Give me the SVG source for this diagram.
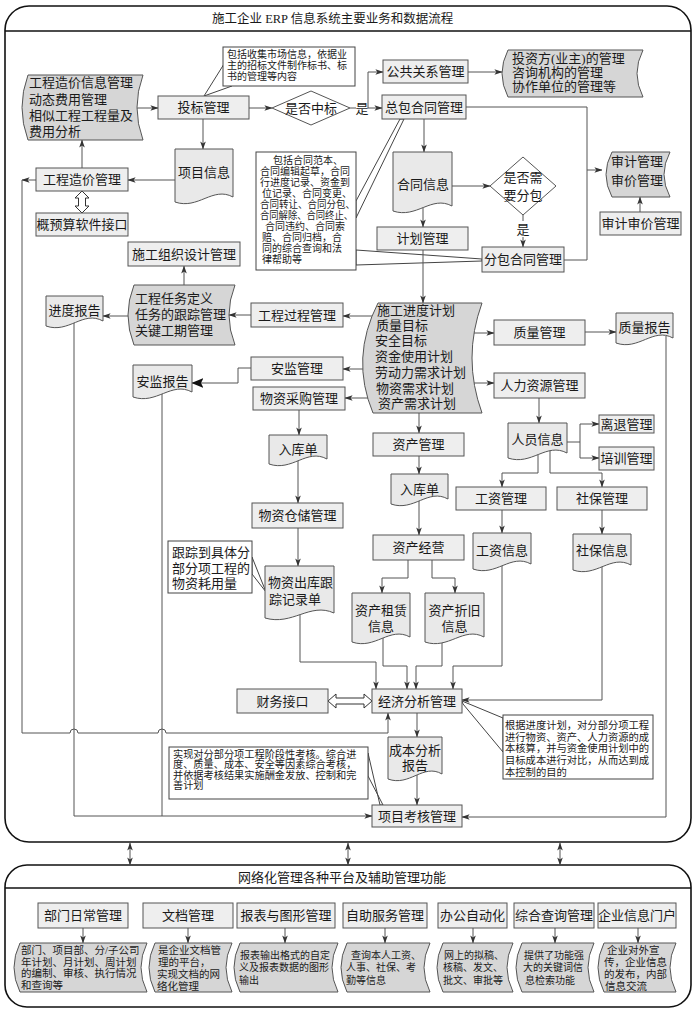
<svg xmlns="http://www.w3.org/2000/svg" width="696" height="1014" viewBox="0 0 696 1014">
<defs>
<style>
text{font-family:"Liberation Serif","Noto Sans CJK SC",serif;fill:#1a1a1a;dominant-baseline:central;font-size:13px}
.m{text-anchor:middle}
.s{font-size:10px}
.box{fill:#eeeeee;stroke:#555;stroke-width:1}
.doc{fill:#e9e9e9;stroke:#555;stroke-width:1}
.tape{fill:#d6d6d6;stroke:#555;stroke-width:1}
.dia{fill:#fff;stroke:#555;stroke-width:1}
.note{fill:#fff;stroke:#444;stroke-width:1}
.frame{fill:#fff;stroke:#111;stroke-width:1.6}
.ln{fill:none;stroke:#555;stroke-width:1}
.ar{marker-end:url(#ah)}
.as{marker-start:url(#ah)}
.arb{marker-end:url(#ahb)}
.hollow{fill:#fff;stroke:#333;stroke-width:1}
</style>
<marker id="ah" viewBox="0 0 10 10" refX="9.5" refY="5" markerWidth="8" markerHeight="8" markerUnits="userSpaceOnUse" orient="auto-start-reverse"><path d="M0,1.5 L10,5 L0,8.5 L2.5,5 Z" fill="#333"/></marker>
<marker id="ahb" viewBox="0 0 10 10" refX="9.5" refY="5" markerWidth="12" markerHeight="12" markerUnits="userSpaceOnUse" orient="auto"><path d="M0,1 L10,5 L0,9 L2,5 Z" fill="#111"/></marker>
</defs>
<rect width="696" height="1014" fill="#fff"/>

<!-- frames -->
<g id="frame-main">
<rect class="frame" x="5" y="6" width="686" height="836" rx="24"/>
<line x1="5" y1="31" x2="691" y2="31" stroke="#111" stroke-width="1.4"/>
<text x="212" y="19" style="font-size:12.5px">施工企业 ERP 信息系统主要业务和数据流程</text>
</g>
<g id="frame-platform">
<rect class="frame" x="5" y="865" width="686" height="142" rx="22"/>
<line x1="5" y1="888" x2="691" y2="888" stroke="#111" stroke-width="1.4"/>
<text x="238" y="877">网络化管理各种平台及辅助管理功能</text>
</g>

<!-- callouts -->
<g id="note-bid">
<polygon class="note" points="224,64 204,96 232,86"/>
<rect class="note" x="223" y="47" width="132" height="39"/>
<text class="s" x="227" y="54">包括收集市场信息，依据业</text>
<text class="s" x="227" y="65">主的招标文件制作标书、标</text>
<text class="s" x="227" y="76">书的管理等内容</text>
</g>
<g id="note-contract">
<polygon class="note" points="356,201 400,119 404,119 356,218"/>
<polygon class="note" points="356,250 482,259 482,261 356,265"/>
<rect class="note" x="256" y="152" width="100" height="118"/>
<text class="s" x="273" y="160">包括合同范本、</text>
<text class="s" x="260" y="171">合同编辑起草，合同</text>
<text class="s" x="260" y="182">行进度记录、资金到</text>
<text class="s" x="262" y="193">位记录、合同变更、</text>
<text class="s" x="260" y="204" textLength="95" lengthAdjust="spacingAndGlyphs">合同转让、合同分包、</text>
<text class="s" x="260" y="215" textLength="93" lengthAdjust="spacingAndGlyphs">合同解除、合同终止、</text>
<text class="s" x="265" y="226">合同违约、合同索</text>
<text class="s" x="262" y="237">赔、合同归档，合</text>
<text class="s" x="262" y="248">同的综合查询和法</text>
<text class="s" x="262" y="259">律帮助等</text>
</g>
<g id="note-track">
<polygon class="note" points="252,557 266,592 252,574"/>
<rect class="note" x="168" y="541" width="84" height="52"/>
<text x="172" y="552">跟踪到具体分</text>
<text x="172" y="568">部分项工程的</text>
<text x="172" y="583">物资耗用量</text>
</g>
<g id="note-assess">
<polygon class="note" points="368,753 380,805 383,805 368,776"/>
<rect class="note" x="169" y="747" width="199" height="52"/>
<text x="173" y="754" style="font-size:10.2px">实现对分部分项工程阶段性考核。综合进</text>
<text x="173" y="764.5" style="font-size:10.2px">度、质量、成本、安全等因素综合考核，</text>
<text x="173" y="775" style="font-size:10.2px">并依据考核结果实施酬金发放、控制和完</text>
<text x="173" y="785.5" style="font-size:10.2px">善计划</text>
</g>
<g id="note-cost">
<polygon class="note" points="503,718 462,701 463,704 503,752"/>
<rect class="note" x="503" y="715" width="150" height="64"/>
<text x="505" y="725" style="font-size:10.3px">根据进度计划，对分部分项工程</text>
<text x="505" y="737" style="font-size:10.3px">进行物资、资产、人力资源的成</text>
<text x="505" y="748" style="font-size:10.3px">本核算，并与资金使用计划中的</text>
<text x="505" y="760" style="font-size:10.3px">目标成本进行对比，从而达到成</text>
<text x="505" y="772" style="font-size:10.3px">本控制的目的</text>
</g>

<!-- connectors -->
<g id="connectors">
<path class="ln ar" d="M137,108 H158"/>
<path class="ln ar" d="M249,108 H272"/>
<path class="ln" d="M350,108 H356"/>
<path class="ln ar" d="M368,108 H382"/>
<path class="ln ar" d="M368,108 V72 H383"/>
<path class="ln ar" d="M468,72 H502"/>
<path class="ln ar" d="M203,119 V149"/>
<path class="ln ar" d="M190,180 H128"/>
<path class="ln ar" d="M82,168 V140"/>
<path class="ln ar" d="M36,180 H22"/>
<path class="ln ar" d="M22,180 V733 H70 A4,4 0 0 1 78,733 H158 A4,4 0 0 1 166,733 H388 V713"/>
<path class="ln ar" d="M424,119 V152"/>
<path class="ln ar" d="M452,186 H490"/>
<path class="ln" d="M523,215 V221"/>
<path class="ln ar" d="M523,237 V247"/>
<path class="ln ar" d="M423,207 V227"/>
<path class="ln ar" d="M423,250 V303"/>
<path class="ln" d="M466,107 H587 V260 H564"/>
<path class="ln ar" d="M587,170 H602"/>
<path class="ln ar" d="M640,212 V197"/>
<path class="ln ar" d="M372,316 H343"/>
<path class="ln ar" d="M251,315 H229"/>
<path class="ln ar" d="M128,316 H103"/>
<path class="ln ar" d="M184,285 V266"/>
<path class="ln ar" d="M363,369 H343"/>
<path class="ln arb" d="M251,368 H238 V383 H192"/>
<path class="ln ar" d="M368,398 H345"/>
<path class="ln ar" d="M299,410 V435"/>
<path class="ln ar" d="M298,460 V503"/>
<path class="ln ar" d="M298,528 V566"/>
<path class="ln ar" d="M300,614 V662 H376 V689"/>
<path class="ln ar" d="M474,333 H494"/>
<path class="ln ar" d="M585,332 H616"/>
<path class="ln ar" d="M666,336 V817 H462"/>
<path class="ln ar" d="M474,383 H494"/>
<path class="ln ar" d="M539,398 V423"/>
<path class="ln ar" d="M567,442 H580 V424 H599"/>
<path class="ln ar" d="M580,442 V458 H599"/>
<path class="ln ar" d="M538,452 V473 H502 V487"/>
<path class="ln ar" d="M550,450 V473 H602 V487"/>
<path class="ln ar" d="M502,510 V533"/>
<path class="ln ar" d="M602,510 V534"/>
<path class="ln ar" d="M502,565 V666 H453 V689"/>
<path class="ln ar" d="M602,566 V700 H462"/>
<path class="ln ar" d="M419,405 V433"/>
<path class="ln ar" d="M419,456 V474"/>
<path class="ln ar" d="M419,500 V535"/>
<path class="ln ar" d="M408,560 V578 H382 V593"/>
<path class="ln ar" d="M432,560 V578 H455 V593"/>
<path class="ln ar" d="M383,638 V666 H407 V689"/>
<path class="ln ar" d="M442,640 V666 H416 V689"/>
<path class="ln ar" d="M417,713 V737"/>
<path class="ln ar" d="M417,775 V805"/>
<path class="ln ar" d="M74,322 V816 H372"/>
<path class="ln" d="M162,393 V816"/>
<polygon class="hollow" points="82,191 89,198 85.5,198 85.5,206 89,206 82,213 75,206 78.5,206 78.5,198 75,198"/>
<polygon class="hollow" points="328,701 336,694 336,698 364,698 364,694 372,701 364,708 364,704 336,704 336,708"/>
<path class="ln ar as" d="M130,843 V865"/>
<path class="ln ar as" d="M348,843 V865"/>
<path class="ln ar as" d="M560,843 V865"/>
<path class="ln ar" d="M83,928 V943"/>
<path class="ln ar" d="M188,928 V943"/>
<path class="ln ar" d="M285,928 V943"/>
<path class="ln ar" d="M385,928 V943"/>
<path class="ln ar" d="M473,928 V943"/>
<path class="ln ar" d="M555,928 V943"/>
<path class="ln ar" d="M638,928 V943"/>
<text class="m" x="362" y="108">是</text>
<text class="m" x="523" y="229">是</text>
</g>

<!-- nodes -->
<g id="cost-info"><path class="tape" d="M28,75 H143 Q131,107.5 143,140 H28 Q16,107.5 28,75 Z"/>
<text x="29" y="82">工程造价信息管理</text><text x="29" y="99">动态费用管理</text><text x="29" y="115">相似工程工程量及</text><text x="29" y="131">费用分析</text></g>
<g id="bid"><rect class="box" x="158" y="96" width="91" height="23"/><text class="m" x="203.5" y="107.5">投标管理</text></g>
<g id="win"><polygon class="dia" points="272,108 311,91 350,108 311,125"/><text class="m" x="311" y="108">是否中标</text></g>
<g id="pr"><rect class="box" x="383" y="60" width="85" height="23"/><text class="m" x="425.5" y="71.5">公共关系管理</text></g>
<g id="investor"><path class="tape" d="M508,50 H643 Q631,73.5 643,97 H508 Q496,73.5 508,50 Z"/>
<text x="512" y="58">投资方(业主)的管理</text><text x="512" y="72">咨询机构的管理</text><text x="512" y="86">协作单位的管理等</text></g>
<g id="main-contract"><rect class="box" x="382" y="95" width="84" height="24"/><text class="m" x="424" y="107">总包合同管理</text></g>
<g id="project-info"><path class="doc" d="M175,149 H233 V197 C212.7,186 198.2,210 175,202 Z"/><text class="m" x="204" y="172">项目信息</text></g>
<g id="cost-mgmt"><rect class="box" x="36" y="168" width="92" height="23"/><text class="m" x="82" y="179.5">工程造价管理</text></g>
<g id="budget-if"><rect class="box" x="36" y="213" width="92" height="23"/><text class="m" x="82" y="224.5">概预算软件接口</text></g>
<g id="contract-info"><path class="doc" d="M393,152 H452 V206 C431.4,195 416.6,219 393,211 Z"/><text class="m" x="423" y="184">合同信息</text></g>
<g id="subq"><polygon class="dia" points="490,186 523,157 556,186 523,215"/><text class="m" x="523" y="177">是否需</text><text class="m" x="523" y="195">要分包</text></g>
<g id="audit"><path class="tape" d="M612,152 H670 Q658,174.5 670,197 H612 Q600,174.5 612,152 Z"/><text class="m" x="637" y="161">审计管理</text><text class="m" x="637" y="180">审价管理</text></g>
<g id="audit-mgmt"><rect class="box" x="600" y="212" width="81" height="23"/><text class="m" x="640.5" y="223.5">审计审价管理</text></g>
<g id="plan"><rect class="box" x="377" y="227" width="91" height="23"/><text class="m" x="422.5" y="238.5">计划管理</text></g>
<g id="sub-contract"><rect class="box" x="482" y="247" width="82" height="25"/><text class="m" x="523" y="259.5">分包合同管理</text></g>
<g id="org-design"><rect class="box" x="128" y="242" width="112" height="24"/><text class="m" x="184" y="254">施工组织设计管理</text></g>
<g id="task"><path class="tape" d="M134,285 H235 Q223,315 235,345 H134 Q122,315 134,285 Z"/>
<text x="135" y="298">工程任务定义</text><text x="135" y="314">任务的跟踪管理</text><text x="135" y="330">关键工期管理</text></g>
<g id="progress-report"><path class="doc" d="M46,296 H103 V321 C83,310 68.8,334 46,326 Z"/><text class="m" x="74.5" y="310">进度报告</text></g>
<g id="process"><rect class="box" x="251" y="303" width="92" height="24"/><text class="m" x="297" y="315">工程过程管理</text></g>
<g id="plans"><path class="tape" d="M378,303 H482 Q462,358 482,413 H373 Q350,358 378,303 Z"/>
<text x="377" y="310">施工进度计划</text><text x="376" y="325">质量目标</text><text x="375" y="340">安全目标</text><text x="375" y="356">资金使用计划</text><text x="375" y="372">劳动力需求计划</text><text x="376" y="388">物资需求计划</text><text x="378" y="403">资产需求计划</text></g>
<g id="safety"><rect class="box" x="251" y="357" width="92" height="23"/><text class="m" x="297" y="368.5">安监管理</text></g>
<g id="safety-report"><path class="doc" d="M133,365 H192 V392 C171.4,381 156.6,405 133,397 Z"/><text class="m" x="162.5" y="381">安监报告</text></g>
<g id="purchase"><rect class="box" x="253" y="387" width="92" height="23"/><text class="m" x="299" y="398.5">物资采购管理</text></g>
<g id="inbound1"><path class="doc" d="M269,435 H327 V459 C306.7,448 292.2,472 269,464 Z"/><text class="m" x="298" y="449">入库单</text></g>
<g id="storage"><rect class="box" x="252" y="503" width="91" height="25"/><text class="m" x="297.5" y="515.5">物资仓储管理</text></g>
<g id="outbound"><path class="doc" d="M265,566 H334 V613 C309.9,602 292.6,626 265,618 Z"/><text x="268" y="582">物资出库跟</text><text x="269" y="599">踪记录单</text></g>
<g id="quality"><rect class="box" x="494" y="320" width="91" height="25"/><text class="m" x="539.5" y="332.5">质量管理</text></g>
<g id="quality-report"><path class="doc" d="M616,313 H673 V338 C653,327 638.8,351 616,343 Z"/><text class="m" x="644.5" y="327">质量报告</text></g>
<g id="hr"><rect class="box" x="494" y="373" width="91" height="25"/><text class="m" x="539.5" y="385.5">人力资源管理</text></g>
<g id="staff"><path class="doc" d="M508,423 H567 V453 C546.4,442 531.6,466 508,458 Z"/><text class="m" x="537.5" y="439">人员信息</text></g>
<g id="retire"><rect class="box" x="599" y="415" width="55" height="18"/><text class="m" x="626.5" y="424">离退管理</text></g>
<g id="training"><rect class="box" x="599" y="447" width="55" height="23"/><text class="m" x="626.5" y="458.5">培训管理</text></g>
<g id="wage"><rect class="box" x="456" y="487" width="90" height="23"/><text class="m" x="501" y="498.5">工资管理</text></g>
<g id="social"><rect class="box" x="557" y="487" width="90" height="23"/><text class="m" x="602" y="498.5">社保管理</text></g>
<g id="wage-info"><path class="doc" d="M473,533 H531 V564 C510.7,553 496.2,577 473,569 Z"/><text class="m" x="502" y="550">工资信息</text></g>
<g id="social-info"><path class="doc" d="M573,534 H631 V565 C610.7,554 596.2,578 573,570 Z"/><text class="m" x="602" y="550">社保信息</text></g>
<g id="asset"><rect class="box" x="373" y="433" width="91" height="23"/><text class="m" x="418.5" y="444.5">资产管理</text></g>
<g id="inbound2"><path class="doc" d="M391,474 H448 V499 C428,488 413.8,512 391,504 Z"/><text class="m" x="419.5" y="489">入库单</text></g>
<g id="asset-op"><rect class="box" x="373" y="535" width="91" height="25"/><text class="m" x="418.5" y="547.5">资产经营</text></g>
<g id="lease"><path class="doc" d="M352,593 H410 V637 C389.7,626 375.2,650 352,642 Z"/><text class="m" x="381" y="610">资产租赁</text><text class="m" x="381" y="626">信息</text></g>
<g id="deprec"><path class="doc" d="M425,593 H484 V637 C463.4,626 448.6,650 425,642 Z"/><text class="m" x="454.5" y="610">资产折旧</text><text class="m" x="454.5" y="626">信息</text></g>
<g id="finance"><rect class="box" x="237" y="689" width="91" height="24"/><text class="m" x="282.5" y="701">财务接口</text></g>
<g id="econ"><rect class="box" x="372" y="689" width="90" height="24"/><text class="m" x="417" y="701">经济分析管理</text></g>
<g id="cost-report"><path class="doc" d="M388,737 H442 V774 C423.1,763 409.6,787 388,779 Z"/><text class="m" x="415" y="750">成本分析</text><text class="m" x="415" y="765">报告</text></g>
<g id="assess"><rect class="box" x="372" y="805" width="90" height="22"/><text class="m" x="417" y="816">项目考核管理</text></g>

<!-- platform nodes -->
<g id="p-dept"><rect class="box" x="38" y="903" width="90" height="25"/><text class="m" x="83" y="915.5">部门日常管理</text>
<path class="tape" d="M20,943 H147 Q135,967.5 147,992 H20 Q8,967.5 20,943 Z"/>
<text x="21" y="950" style="font-size:10.5px">部门、项目部、分/子公司</text><text x="21" y="962" style="font-size:10.5px">年计划、月计划、周计划</text><text x="21" y="973" style="font-size:10.5px">的编制、审核、执行情况</text><text x="21" y="985" style="font-size:10.5px">和查询等</text></g>
<g id="p-doc"><rect class="box" x="143" y="903" width="90" height="25"/><text class="m" x="188" y="915.5">文档管理</text>
<path class="tape" d="M155,943 H232 Q220,967.5 232,992 H155 Q143,967.5 155,943 Z"/>
<text x="158" y="950" style="font-size:10.5px">是企业文档管</text><text x="158" y="962" style="font-size:10.5px">理的平台，</text><text x="157" y="974" style="font-size:10.5px">实现文档的网</text><text x="157" y="986" style="font-size:10.5px">络化管理</text></g>
<g id="p-report"><rect class="box" x="237" y="903" width="98" height="25"/><text class="m" x="286" y="915.5">报表与图形管理</text>
<path class="tape" d="M240,943 H338 Q326,967.5 338,992 H240 Q228,967.5 240,943 Z"/>
<text x="240" y="955" class="s">报表输出格式的自定</text><text x="239" y="967" class="s">义及报表数据的图形</text><text x="239" y="980" class="s">输出</text></g>
<g id="p-self"><rect class="box" x="343" y="903" width="84" height="25"/><text class="m" x="385" y="915.5">自助服务管理</text>
<path class="tape" d="M347,943 H430 Q418,967.5 430,992 H347 Q335,967.5 347,943 Z"/>
<text x="351" y="955" class="s">查询本人工资、</text><text x="346" y="967" class="s">人事、社保、考</text><text x="346" y="980" class="s">勤等信息</text></g>
<g id="p-oa"><rect class="box" x="438" y="903" width="69" height="25"/><text class="m" x="472.5" y="915.5">办公自动化</text>
<path class="tape" d="M443,943 H513 Q501,967.5 513,992 H443 Q431,967.5 443,943 Z"/>
<text x="444" y="955" class="s">网上的拟稿、</text><text x="443" y="967" class="s">核稿、发文、</text><text x="443" y="980" class="s">批文、审批等</text></g>
<g id="p-query"><rect class="box" x="514" y="903" width="80" height="25"/><text class="m" x="554" y="915.5">综合查询管理</text>
<path class="tape" d="M522,943 H594 Q582,967.5 594,992 H522 Q510,967.5 522,943 Z"/>
<text x="524" y="955" class="s">提供了功能强</text><text x="523" y="967" class="s">大的关键词信</text><text x="525" y="980" class="s">息检索功能</text></g>
<g id="p-portal"><rect class="box" x="598" y="903" width="78" height="25"/><text class="m" x="637" y="915.5">企业信息门户</text>
<path class="tape" d="M604,943 H676 Q664,967.5 676,992 H604 Q592,967.5 604,943 Z"/>
<text x="607" y="950" style="font-size:10.5px">企业对外宣</text><text x="604" y="962" style="font-size:10.5px">传，企业信息</text><text x="604" y="974" style="font-size:10.5px">的发布，内部</text><text x="605" y="986" style="font-size:10.5px">信息交流</text></g>
</svg>
